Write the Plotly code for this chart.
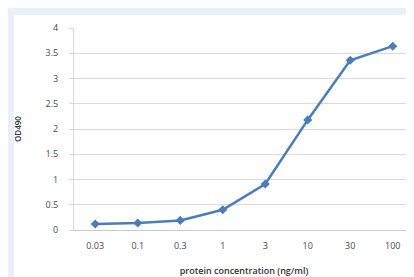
import plotly.graph_objects as go

concentrations = ["0.03", "0.1", "0.3", "1", "3", "10", "30", "100"]
od490 = [0.12, 0.14, 0.19, 0.40, 0.91, 2.18, 3.36, 3.64]
y_ticks = [0, 0.5, 1, 1.5, 2, 2.5, 3, 3.5, 4]
y_tick_text = ["0", "0.5", "1", "1.5", "2", "2.5", "3", "3.5", "4"]

font = "Open Sans, DejaVu Sans, sans-serif"
txt = "#4a4a4a"

fig = go.Figure()
fig.add_trace(go.Scatter(
    x=concentrations, y=od490, mode="lines+markers",
    line=dict(color="#4a7ebb", width=2.5),
    marker=dict(symbol="diamond", size=7, color="#4a7ebb"),
    showlegend=False,
))

fig.update_layout(
    width=414, height=277,
    margin=dict(l=66, r=8, t=20, b=55),
    paper_bgcolor="#e9f0f6",
    plot_bgcolor="white",
    font=dict(family=font, size=9, color=txt),
    shapes=[dict(type="rect", xref="paper", yref="paper",
                 x0=-0.176, x1=1.006, y0=-0.28, y1=1.064,
                 fillcolor="white", line=dict(width=0), layer="below")],
    xaxis=dict(type="category", range=[-0.5, 7.5], showgrid=False,
               showline=True, linecolor="#c8c8c8", linewidth=1,
               ticks="", ticklabelstandoff=7, tickfont=dict(size=9, color=txt),
               title=dict(text="protein concentration (ng/ml)",
                          font=dict(size=9, color="#333333", weight=600), standoff=16),
               zeroline=False),
    yaxis=dict(range=[0, 4], tickvals=y_ticks, ticktext=y_tick_text,
               showgrid=True, gridcolor="#d9d9d9", gridwidth=1,
               showline=True, linecolor="#d9d9d9", linewidth=1,
               ticks="outside", ticklen=4, tickcolor="#d9d9d9",
               ticklabelstandoff=9,
               tickfont=dict(size=9, color=txt),
               title=dict(text="OD490", font=dict(size=8, color="#333333", weight=600), standoff=22),
               zeroline=False),
)

fig.write_html("out.html")
